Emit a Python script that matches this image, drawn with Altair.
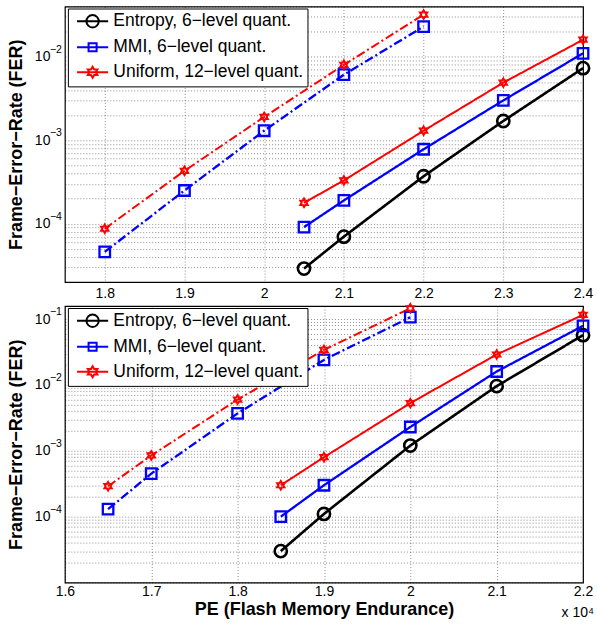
import altair as alt
import pandas as pd
import re

SERIES = ["Entropy, 6−level quant.", "MMI, 6−level quant.", "Uniform, 12−level quant."]
COLORS = ["#000000", "#0000ff", "#ff0000"]
KINDS = ["solid", "dashdot"]

# ---- top panel (PE cycles, FER) ----
top_pe_solid = [20500, 21000, 22000, 23000, 24000]
top_entropy = [2.9e-5, 7.0e-5, 3.7e-4, 1.7e-3, 7.3e-3]
top_mmi = [9.1e-5, 1.9e-4, 7.8e-4, 3.0e-3, 1.1e-2]
top_uniform = [1.78e-4, 3.3e-4, 1.3e-3, 4.9e-3, 1.6e-2]
top_pe_dash = [18000, 19000, 20000, 21000, 22000]
top_mmi_dash = [4.6e-5, 2.5e-4, 1.3e-3, 6.1e-3, 2.3e-2]
top_uniform_dash = [8.7e-5, 4.3e-4, 1.9e-3, 8.0e-3, 3.2e-2]

# ---- bottom panel ----
bot_pe_solid = [18500, 19000, 20000, 21000, 22000]
bot_entropy = [3.0e-5, 1.1e-4, 1.2e-3, 9.6e-3, 5.7e-2]
bot_mmi = [1.0e-4, 3.0e-4, 2.3e-3, 1.6e-2, 7.9e-2]
bot_uniform = [3.0e-4, 8.0e-4, 5.3e-3, 2.9e-2, 1.16e-1]
bot_pe_dash = [16500, 17000, 18000, 19000, 20000]
bot_mmi_dash = [1.3e-4, 4.5e-4, 3.7e-3, 2.4e-2, 1.07e-1]
bot_uniform_dash = [2.9e-4, 8.5e-4, 6.0e-3, 3.4e-2, 1.46e-1]

TOP_X_TICKS = [18000, 19000, 20000, 21000, 22000, 23000, 24000]
BOT_X_TICKS = [16000, 17000, 18000, 19000, 20000, 21000, 22000]
TOP_DECADES = [1e-4, 1e-3, 1e-2]
TOP_EXPONENTS = ["−4", "−3", "−2"]
BOT_DECADES = [1e-4, 1e-3, 1e-2, 1e-1]
BOT_EXPONENTS = ["−4", "−3", "−2", "−1"]


def frame(pe_s, ent, mmi, uni, pe_d, mmi_d, uni_d):
    rows = []
    for name, pes, vals, kind in [
        (SERIES[0], pe_s, ent, "solid"),
        (SERIES[1], pe_s, mmi, "solid"),
        (SERIES[2], pe_s, uni, "solid"),
        (SERIES[1], pe_d, mmi_d, "dashdot"),
        (SERIES[2], pe_d, uni_d, "dashdot"),
    ]:
        for p, v in zip(pes, vals):
            rows.append({"series": name, "kind": kind, "pe": p, "fer": v})
    return pd.DataFrame(rows)


df_top = frame(top_pe_solid, top_entropy, top_mmi, top_uniform,
               top_pe_dash, top_mmi_dash, top_uniform_dash)
df_bot = frame(bot_pe_solid, bot_entropy, bot_mmi, bot_uniform,
               bot_pe_dash, bot_mmi_dash, bot_uniform_dash)

HEX = ("M0,-1L0.2887,-0.5L0.866,-0.5L0.577,0L0.866,0.5L0.2887,0.5L0,1"
       "L-0.2887,0.5L-0.866,0.5L-0.577,0L-0.866,-0.5L-0.2887,-0.5Z")


def scaled_path(path, k):
    return re.sub(r"-?\d+\.?\d*", lambda m: f"{float(m.group(0))*k:.3f}", path)


LINE = "M-2.4,0L2.4,0"
LEG_CIRCLE = LINE + "M0.95,0A0.95,0.95,0,1,1,-0.95,0A0.95,0.95,0,1,1,0.95,0Z"
LEG_SQUARE = LINE + "M-0.62,-0.62L0.62,-0.62L0.62,0.62L-0.62,0.62Z"
LEG_HEX = LINE + scaled_path(HEX, 0.85)

Y_LABEL = ("abs(log(datum.value)/LN10 - round(log(datum.value)/LN10)) < 0.001 "
           "&& datum.value > 1.5e-5 ? '10' : ''")

FONT = "Liberation Sans"


def yticks(lo_exp, hi_exp, lo, hi):
    vals = []
    for e in range(lo_exp, hi_exp + 1):
        for m in range(1, 10):
            v = float(f"{m}e{e}")
            if lo * 0.999 <= v <= hi * 1.001:
                vals.append(v)
    return vals


def panel(df, xdom, xticks, ydom, yvals, decades, exps, xtitle, h, xlabpad, extra=None):
    base = alt.Chart(df)
    x = alt.X("pe:Q", scale=alt.Scale(domain=xdom, nice=False, zero=False),
              axis=alt.Axis(values=xticks, labelExpr="format(datum.value/10000,'.1~f')",
                            title=xtitle, grid=True, ticks=False, domain=False,
                            labelFlush=False, labelFontSize=14, labelPadding=xlabpad,
                            titleFontSize=18, titleFontWeight="bold", titlePadding=2,
                            minExtent=0,
                            gridDash=[1, 2], gridColor="#000", gridOpacity=0.45))
    y = alt.Y("fer:Q", scale=alt.Scale(type="log", domain=ydom, nice=False),
              axis=alt.Axis(values=yvals, labelExpr=Y_LABEL,
                            title="Frame−Error−Rate (FER)", grid=True, ticks=False,
                            domain=False, labelFlush=False, labelFontSize=14,
                            labelPadding=15, titleFontSize=18, titleFontWeight="bold",
                            titlePadding=9,
                            gridDash=[1, 2], gridColor="#000", gridOpacity=0.45))
    legend = alt.Legend(title=None, orient="none", legendX=3, legendY=2,
                        labelFontSize=17.5, labelFont=FONT, symbolSize=169,
                        symbolStrokeWidth=2, symbolOffset=12, labelOffset=12,
                        symbolOpacity=1, symbolFillColor="transparent",
                        rowPadding=6, padding=4, strokeColor="black",
                        fillColor="white", cornerRadius=0, labelLimit=400)
    cscale = alt.Scale(domain=SERIES, range=COLORS)
    sw = alt.StrokeWidth("series:N", scale=alt.Scale(domain=SERIES, range=[2.6, 2, 2]), legend=None)
    lines = base.mark_line().encode(
        x=x, y=y, color=alt.Color("series:N", scale=cscale, legend=None),
        strokeDash=alt.StrokeDash("kind:N", scale=alt.Scale(domain=KINDS, range=[[1, 0], [9, 3, 2, 3]]),
                                  legend=None),
        strokeWidth=sw,
    )
    points = base.mark_point(filled=False, opacity=1).encode(
        x=x, y=y, color=alt.Color("series:N", scale=cscale, legend=None),
        shape=alt.Shape("series:N", scale=alt.Scale(domain=SERIES, range=["circle", "square", HEX]),
                        legend=None),
        strokeWidth=sw,
        size=alt.Size("series:N", scale=alt.Scale(domain=SERIES, range=[150, 72, 169]), legend=None),
    )
    # legend-only layer (draws no marks): legend entries with line + marker symbols
    leg = base.mark_point(filled=False).encode(
        x=x, y=y,
        color=alt.Color("series:N", scale=alt.Scale(domain=SERIES, range=COLORS), legend=legend),
        shape=alt.Shape("series:N", scale=alt.Scale(domain=SERIES,
                                                    range=[LEG_CIRCLE, LEG_SQUARE, LEG_HEX]),
                        legend=legend),
    ).transform_filter(alt.datum.pe < 0)
    # superscript exponents of the decade labels
    expo = alt.Chart(pd.DataFrame({"fer": decades, "t": exps})).mark_text(
        align="left", baseline="middle", fontSize=10.5, font=FONT, dx=-15, dy=-7
    ).encode(x=alt.datum(xdom[0]), y=alt.Y("fer:Q"), text="t:N")
    layers = [lines, points, leg, expo]
    if extra is not None:
        layers.append(extra)
    return alt.layer(*layers).resolve_scale(
        shape="independent", color="independent").properties(width=519, height=h)


mult = alt.Chart(pd.DataFrame({"t": ["x 10⁴"]})).mark_text(
    align="right", baseline="middle", fontSize=14, font=FONT, dx=11, dy=31
).encode(x=alt.datum(22000), y=alt.datum(1e-5), text="t:N")

top = panel(df_top, [17500, 24000], TOP_X_TICKS, [2e-5, 4e-2],
            yticks(-5, -2, 2e-5, 4e-2), TOP_DECADES, TOP_EXPONENTS, None, 276, 4)
bot = panel(df_bot, [16000, 22000], BOT_X_TICKS, [1e-5, 0.158],
            yticks(-5, -1, 1e-5, 0.158), BOT_DECADES, BOT_EXPONENTS,
            "PE (Flash Memory Endurance)", 277, 2, extra=mult)

chart = alt.vconcat(top, bot, spacing=24, bounds="flush").resolve_scale(
    color="independent", shape="independent", size="independent", strokeWidth="independent",
    strokeDash="independent", x="independent", y="independent"
).resolve_legend(color="independent", shape="independent").properties(
    padding={"left": 6, "top": 5, "right": 2, "bottom": 2}
).configure(font=FONT).configure_view(stroke="black", strokeWidth=1.2)

chart.save("out.html", embed_options={"renderer": "svg", "actions": False})
